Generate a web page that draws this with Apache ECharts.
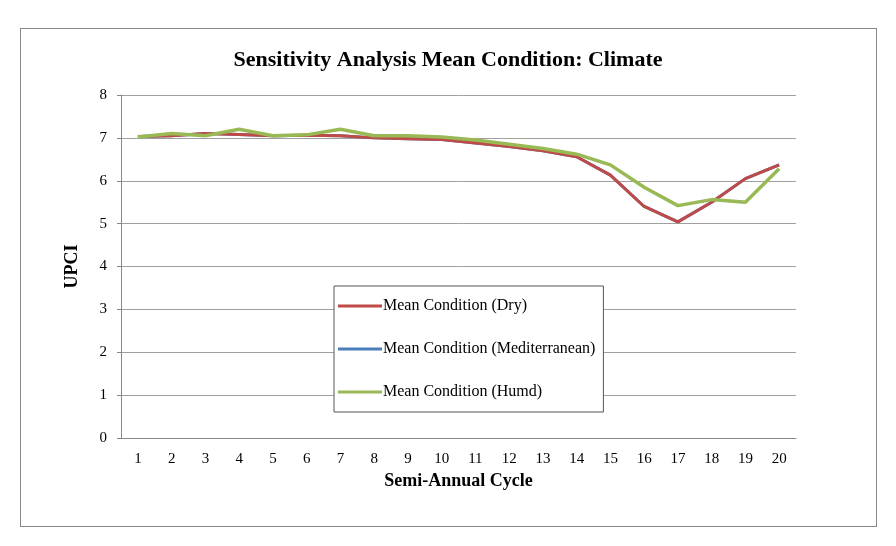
<!DOCTYPE html>
<html><head><meta charset="utf-8">
<script src="https://cdn.jsdelivr.net/npm/echarts@6/dist/echarts.min.js"></script>
<style>body{margin:0;background:#fff}#c{width:896px;height:546px}
#frame{position:absolute;left:20px;top:28px;width:855px;height:497px;border:1px solid #888;pointer-events:none}</style>
</head><body><div id="c"></div><div id="frame"></div>
<script>
var cycles = ['1','2','3','4','5','6','7','8','9','10','11','12','13','14','15','16','17','18','19','20'];
var dry = [7.03, 7.05, 7.1, 7.08, 7.05, 7.06, 7.05, 7.0, 6.98, 6.96, 6.88, 6.8, 6.7, 6.56, 6.13, 5.4, 5.04, 5.5, 6.05, 6.37];
var med = [7.03, 7.05, 7.1, 7.08, 7.05, 7.06, 7.05, 7.0, 6.98, 6.96, 6.88, 6.8, 6.7, 6.56, 6.13, 5.4, 5.04, 5.5, 6.05, 6.37];
var humd = [7.02, 7.1, 7.05, 7.2, 7.05, 7.07, 7.2, 7.05, 7.05, 7.02, 6.95, 6.85, 6.75, 6.62, 6.37, 5.85, 5.42, 5.56, 5.5, 6.28];

var chart = echarts.init(document.getElementById('c'));
var serif = 'Liberation Serif';
chart.setOption({
    title: {
        text: 'Sensitivity Analysis Mean Condition: Climate',
        left: 'center', top: 44,
        textStyle: {fontFamily: serif, fontSize: 22, fontWeight: 'bold', color: '#000'}
    },
    legend: {
        orient: 'vertical', left: 334, top: 286, itemGap: 27,
        itemWidth: 44, itemHeight: 3, icon: 'rect',
        padding: [12, 8, 12, 4],
        backgroundColor: '#fff', borderColor: '#555', borderWidth: 1,
        textStyle: {fontFamily: serif, fontSize: 16, color: '#000', padding: [0, 0, 0, -4]},
        data: ['Mean Condition (Dry)', 'Mean Condition (Mediterranean)', 'Mean Condition (Humd)']
    },
    grid: {left: 121, right: 100, top: 95, bottom: 108},
    xAxis: {
        type: 'category', data: cycles, boundaryGap: true,
        name: 'Semi-Annual Cycle', nameLocation: 'middle', nameGap: 34,
        nameTextStyle: {fontFamily: serif, fontSize: 18, fontWeight: 'bold', color: '#000'},
        axisLine: {lineStyle: {color: '#888'}},
        axisTick: {show: false},
        axisLabel: {fontFamily: serif, fontSize: 15, color: '#000', margin: 14}
    },
    yAxis: {
        type: 'value', min: 0, max: 8, interval: 1,
        name: 'UPCI', nameLocation: 'middle', nameGap: 40,
        nameTextStyle: {fontFamily: serif, fontSize: 18, fontWeight: 'bold', color: '#000'},
        axisLine: {show: true, lineStyle: {color: '#888'}},
        axisTick: {show: true, length: 4},
        axisLabel: {fontFamily: serif, fontSize: 15, color: '#000', margin: 14},
        splitLine: {lineStyle: {color: '#a0a0a0'}}
    },
    series: [
        {name: 'Mean Condition (Mediterranean)', type: 'line', data: med, symbol: 'none', z: 1,
         lineStyle: {width: 3, color: '#4a7ebb'}, itemStyle: {color: '#4a7ebb'}},
        {name: 'Mean Condition (Dry)', type: 'line', data: dry, symbol: 'none', z: 2,
         lineStyle: {width: 3, color: '#be4b48'}, itemStyle: {color: '#be4b48'}},
        {name: 'Mean Condition (Humd)', type: 'line', data: humd, symbol: 'none', z: 3,
         lineStyle: {width: 3.5, color: '#98b954'}, itemStyle: {color: '#98b954'}}
    ]
});
</script></body></html>
